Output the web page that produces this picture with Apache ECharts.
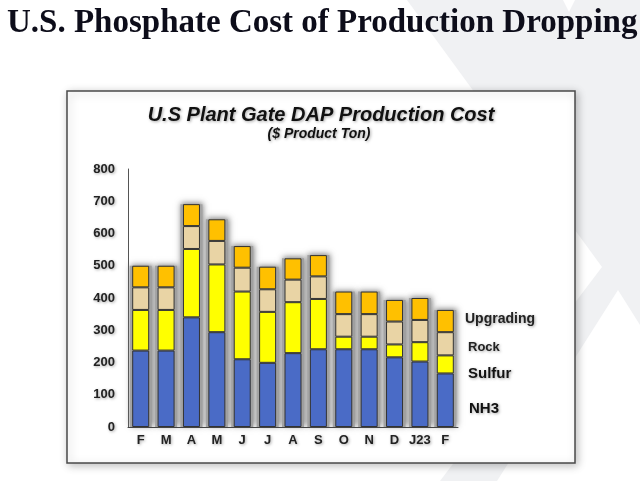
<!DOCTYPE html>
<html>
<head>
<meta charset="utf-8">
<script src="https://cdn.jsdelivr.net/npm/echarts@6/dist/echarts.min.js"></script>
<style>
html,body{margin:0;padding:0;background:#fff;}
#chart{width:640px;height:481px;}
</style>
</head>
<body>
<div id="chart"></div>
<script>
const categories = ['F','M','A','M','J','J','A','S','O','N','D','J23','F'];
const nh3       = [237,237,340,294,210,199,229,241,241,241,216,203,166];
const sulfur    = [126,126,212,210,210,158,158,156,39,39,40,60,56];
const rock      = [70,70,71,73,74,70,70,70,70,70,71,69,72];
const upgrading = [67,67,68,67,67,70,66,66,70,70,67,68,69];
const yTicks = [0,100,200,300,400,500,600,700,800];
const seriesNames = ['NH3','Sulfur','Rock','Upgrading'];

const totals = categories.map((c,i)=>nh3[i]+sulfur[i]+rock[i]+upgrading[i]);

const chart = echarts.init(document.getElementById('chart'), null, {renderer:'canvas'});
const lblShadow = {textShadowColor:'rgba(0,0,0,0.35)', textShadowBlur:3, textShadowOffsetX:1, textShadowOffsetY:1};
const barBorder = {borderColor:'#333', borderWidth:1};
const sans = '"Liberation Sans", Arial, sans-serif';

const option = {
  animation:false,
  backgroundColor:'#ffffff',
  graphic:[
    {type:'polygon', z:-10, silent:true,
      shape:{points:[[407,0],[563,0],[569,12],[575,0],[640,0],[640,325],[618,290],[497,481],[440,481],[602,267]]},
      style:{fill:'#f0f1f3'}},
    {type:'text', left:7, top:7, z:5,
      style:{text:'U.S. Phosphate Cost of Production Dropping', font:'bold 33px "Liberation Serif", serif', fill:'#0d0d1a'}},
    {type:'rect', z:-5, silent:true,
      shape:{x:67, y:91, width:508, height:372},
      style:{fill:'#ffffff', stroke:'#4a4a4a', lineWidth:1.5, shadowBlur:8, shadowColor:'rgba(0,0,0,0.25)', shadowOffsetX:2, shadowOffsetY:2}},
    {type:'text', x:321, y:115, z:5,
      style:{text:'U.S Plant Gate DAP Production Cost', font:'italic bold 20px ' + sans, fill:'#111', align:'center', verticalAlign:'middle', ...lblShadow}},
    {type:'text', x:319, y:134, z:5,
      style:{text:'($ Product Ton)', font:'italic bold 14px ' + sans, fill:'#111', align:'center', verticalAlign:'middle', ...lblShadow}},
    {type:'text', x:465, y:319, z:5,
      style:{text:seriesNames[3], font:'bold 14px ' + sans, fill:'#222', verticalAlign:'middle', ...lblShadow}},
    {type:'text', x:468, y:347, z:5,
      style:{text:seriesNames[2], font:'bold 13px ' + sans, fill:'#222', verticalAlign:'middle', ...lblShadow}},
    {type:'text', x:468, y:374, z:5,
      style:{text:seriesNames[1], font:'bold 15px ' + sans, fill:'#111', verticalAlign:'middle', ...lblShadow}},
    {type:'text', x:469, y:409, z:5,
      style:{text:seriesNames[0], font:'bold 15px ' + sans, fill:'#111', verticalAlign:'middle', ...lblShadow}}
  ],
  grid:{left:128, right:182, top:169, bottom:54, containLabel:false},
  xAxis:[{
    type:'category', data:categories,
    axisLine:{lineStyle:{color:'#444', width:1}},
    axisTick:{show:false},
    axisLabel:{color:'#222', fontWeight:'bold', fontSize:13, fontFamily:sans, margin:7, interval:0, ...lblShadow},
    splitLine:{show:false}, z:4
  },{
    type:'category', data:categories, show:false
  }],
  yAxis:{
    type:'value', min:yTicks[0], max:yTicks[yTicks.length-1], interval:100,
    axisLine:{show:true, lineStyle:{color:'#555', width:1}},
    axisTick:{show:false},
    axisLabel:{color:'#222', fontWeight:'bold', fontSize:13, fontFamily:sans, margin:13, ...lblShadow},
    splitLine:{show:false}
  },
  series:[
    {name:'shadow', type:'bar', xAxisIndex:1, data:totals, barWidth:22, z:1, silent:true,
      itemStyle:{color:'#a3a3a3', shadowBlur:6, shadowColor:'rgba(110,110,110,0.9)', shadowOffsetX:1, shadowOffsetY:-1}},
    {name:seriesNames[0], type:'bar', stack:'cost', data:nh3, barWidth:17, z:3,
      itemStyle:{color:'#4a6bc6', ...barBorder}},
    {name:seriesNames[1], type:'bar', stack:'cost', data:sulfur, barWidth:17, z:3,
      itemStyle:{color:'#ffff00', ...barBorder}},
    {name:seriesNames[2], type:'bar', stack:'cost', data:rock, barWidth:17, z:3,
      itemStyle:{color:'#e9d4a5', ...barBorder}},
    {name:seriesNames[3], type:'bar', stack:'cost', data:upgrading, barWidth:17, z:3,
      itemStyle:{color:'#ffc000', ...barBorder}}
  ]
};
chart.setOption(option);
</script>
</body>
</html>
